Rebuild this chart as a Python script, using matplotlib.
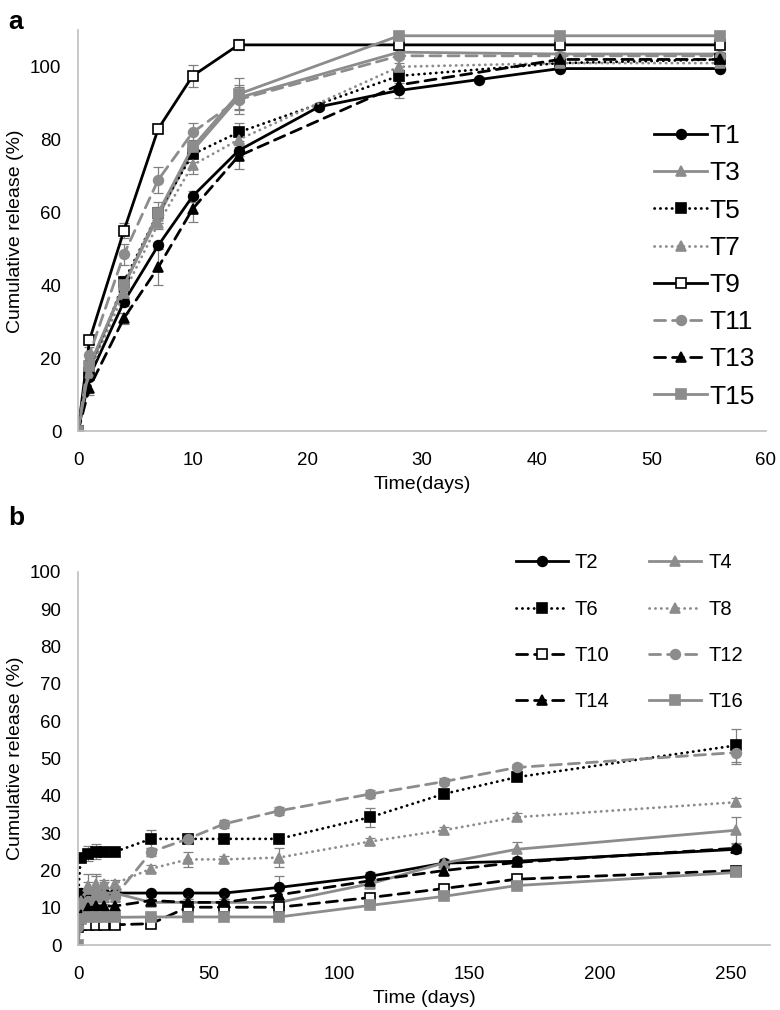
import matplotlib.pyplot as plt

plt.rcParams['font.family'] = ['Liberation Sans', 'DejaVu Sans']

# ---- panel a : days 0-56 ----
days_a = [0, 1, 4, 7, 10, 14, 28, 42, 56]
days_t1 = [0, 1, 4, 7, 10, 14, 21, 28, 35, 42, 56]

t1 = [0, 15, 35.5, 51, 64.5, 77, 89, 93.5, 96.5, 99.5, 99.5]
t3 = [0, 17, 40, 59, 77, 91.5, 104, 103.5, 103.5]
t5 = [0, 16, 41, 60, 76, 82, 97.5, 101, 102]
t7 = [0, 16, 38, 57, 73, 80, 100, 101, 101]
t9 = [0, 25, 55, 83, 97.5, 106, 106, 106, 106]
t11 = [0, 21, 48.5, 69, 82, 91, 103, 103, 103]
t13 = [0, 12, 31, 45, 61, 75.5, 95, 102, 102]
t15 = [0, 18, 40, 60, 78, 92.5, 108.5, 108.5, 108.5]

t1_err = [0, 1, 1, 1, 1.5, 1.5, 1, 2, 0.5, 0.5, 0.5]
t3_err = [0, 1, 1.5, 2, 2, 3, 0.5, 0.5, 0.5]
t5_err = [0, 1, 1.5, 1.5, 2, 2.5, 1, 0.5, 0.5]
t7_err = [0, 1, 1.5, 1.5, 2.5, 2, 1, 0.5, 0.5]
t9_err = [0, 1, 2, 0.5, 3, 1.5, 0.5, 0.5, 0.5]
t11_err = [0, 2, 3, 3.5, 2.5, 4, 1, 0.5, 0.5]
t13_err = [0, 2, 1.5, 5, 3.5, 3.5, 1, 0.5, 0.5]
t15_err = [0, 1.5, 2, 3, 2, 4.5, 0.5, 0.5, 0.5]

# ---- panel b : days 0-252 ----
days_b = [0, 1, 4, 7, 10, 14, 28, 42, 56, 77, 112, 140, 168, 252]

t2 = [14, 14, 14, 14, 14, 14, 14, 14, 14, 15.5, 18.5, 22, 22.5, 25.7]
t4 = [8, 12, 15, 15, 14, 14, 11.5, 11.5, 11.5, 11.5, 16.5, 22, 25.7, 30.8]
t6 = [13, 23.5, 24.5, 25, 25, 25, 28.5, 28.5, 28.5, 28.5, 34.3, 40.5, 45, 53.5]
t8 = [6, 12, 16, 16.5, 16.5, 16.5, 20.5, 23, 23, 23.5, 27.8, 30.8, 34.3, 38.3]
t10 = [5, 5.5, 5.5, 5.5, 5.5, 5.5, 5.8, 10.2, 10.2, 10.2, 12.8, 15.2, 17.7, 20]
t12 = [5, 9, 12, 13, 13, 13, 25, 28.5, 32.5, 36, 40.5, 43.8, 47.6, 51.6]
t14 = [7, 8, 10, 10.5, 10.5, 10.5, 12, 11.5, 11.5, 13.5, 17.3, 20, 22.2, 26]
t16 = [0, 7, 7.5, 7.5, 7.5, 7.5, 7.6, 7.6, 7.6, 7.6, 10.7, 13.1, 16, 19.5]

t2_err = [0, 0.5, 0.5, 0.5, 0.5, 0.5, 0.5, 0.5, 0.5, 3, 1, 0.5, 1, 1]
t4_err = [0, 1, 2, 4, 3, 2, 1, 1, 1, 1, 1, 1, 2, 3.5]
t6_err = [1, 1, 2, 2, 1, 1, 2.5, 1, 1, 1, 2.5, 1, 1, 4.5]
t8_err = [0, 1, 3, 2, 1, 1, 1, 2, 1, 2.5, 1, 1, 1, 1]
t10_err = [0, 0.5, 0.5, 0.5, 0.5, 0.5, 0.5, 0.5, 0.5, 0.5, 0.5, 0.5, 0.5, 0.5]
t12_err = [0, 1, 1, 1, 1, 1, 1, 1, 1, 1, 1, 1, 1, 3]
t14_err = [0, 1, 1, 1, 1, 1, 1, 1, 1, 1, 1, 1, 1, 1]
t16_err = [0, 0.5, 0.5, 0.5, 0.5, 0.5, 0.5, 0.5, 0.5, 0.5, 0.5, 0.5, 0.5, 0.5]

GRAY = '#8c8c8c'
ERR = '#808080'
AXIS = '#bfbfbf'
SOLID = '-'
DOT = (0, (0.1, 2))
DASH = (0, (4, 2.5))

series_a = [
    ('T1', days_t1, t1, t1_err, 'black', SOLID, 'o', 'black'),
    ('T3', days_a, t3, t3_err, GRAY, SOLID, '^', GRAY),
    ('T5', days_a, t5, t5_err, 'black', DOT, 's', 'black'),
    ('T7', days_a, t7, t7_err, GRAY, DOT, '^', GRAY),
    ('T9', days_a, t9, t9_err, 'black', SOLID, 's', 'white'),
    ('T11', days_a, t11, t11_err, GRAY, DASH, 'o', GRAY),
    ('T13', days_a, t13, t13_err, 'black', DASH, '^', 'black'),
    ('T15', days_a, t15, t15_err, GRAY, SOLID, 's', GRAY),
]

series_b = [
    ('T2', t2, t2_err, 'black', SOLID, 'o', 'black'),
    ('T4', t4, t4_err, GRAY, SOLID, '^', GRAY),
    ('T6', t6, t6_err, 'black', DOT, 's', 'black'),
    ('T8', t8, t8_err, GRAY, DOT, '^', GRAY),
    ('T10', t10, t10_err, 'black', DASH, 's', 'white'),
    ('T12', t12, t12_err, GRAY, DASH, 'o', GRAY),
    ('T14', t14, t14_err, 'black', DASH, '^', 'black'),
    ('T16', t16, t16_err, GRAY, SOLID, 's', GRAY),
]


def style_axes(ax):
    for side in ['top', 'right']:
        ax.spines[side].set_visible(False)
    for side in ['left', 'bottom']:
        ax.spines[side].set_color(AXIS)
        ax.spines[side].set_linewidth(1.2)
    ax.tick_params(length=0, labelsize=13.5)
    ax.tick_params(axis='y', pad=12)
    ax.tick_params(axis='x', pad=15)


fig = plt.figure(figsize=(7.8, 10.1), dpi=100)

# panel a
ax1 = fig.add_axes([0.1, 0.573, 0.882, 0.397])
for lab, x, y, err, col, ls, mk, mfc in series_a:
    ax1.errorbar(x, y, yerr=err, fmt='none', ecolor=ERR, elinewidth=0.9,
                 capsize=3.5, capthick=0.9, zorder=1)
    ax1.plot(x, y, color=col, linestyle=ls, linewidth=2, marker=mk, markersize=7,
             markerfacecolor=mfc, markeredgecolor=col, markeredgewidth=1.2,
             dash_capstyle='round', label=lab, zorder=2)
ax1.set_xlim(0, 60)
ax1.set_ylim(0, 110)
ax1.set_xticks(range(0, 61, 10))
ax1.set_yticks(range(0, 101, 20))
style_axes(ax1)
ax1.set_xlabel('Time(days)', fontsize=14, labelpad=5)
ax1.set_ylabel('Cumulative release (%)', fontsize=14, labelpad=4)
fig.legend(*ax1.get_legend_handles_labels(), loc='upper left',
           bbox_to_anchor=(0.822, 0.89), frameon=False, fontsize=19,
           handlelength=2.0, handletextpad=0.1, labelspacing=0.5, borderpad=0)
fig.text(0.01, 0.978, 'a', fontsize=19, fontweight='bold', va='center')

# panel b
ax2 = fig.add_axes([0.1, 0.064, 0.887, 0.37])
for lab, y, err, col, ls, mk, mfc in series_b:
    ax2.errorbar(days_b, y, yerr=err, fmt='none', ecolor=ERR, elinewidth=0.9,
                 capsize=3.5, capthick=0.9, zorder=1)
    ax2.plot(days_b, y, color=col, linestyle=ls, linewidth=2, marker=mk, markersize=7,
             markerfacecolor=mfc, markeredgecolor=col, markeredgewidth=1.2,
             dash_capstyle='round', label=lab, zorder=2)
ax2.set_xlim(0, 265)
ax2.set_ylim(0, 100)
ax2.set_xticks(range(0, 251, 50))
ax2.set_yticks(range(0, 101, 10))
style_axes(ax2)
ax2.set_xlabel('Time (days)', fontsize=14, labelpad=5)
ax2.set_ylabel('Cumulative release (%)', fontsize=14, labelpad=4)

# legend is filled row by row in the reference: T2 T4 / T6 T8 / ...
h, l = ax2.get_legend_handles_labels()
order = [0, 2, 4, 6, 1, 3, 5, 7]
fig.legend([h[i] for i in order], [l[i] for i in order], loc='upper left', ncol=2,
           bbox_to_anchor=(0.648, 0.462), frameon=False, fontsize=14.5,
           handlelength=2.6, handletextpad=0.35, labelspacing=1.35,
           columnspacing=1.95, borderpad=0)
fig.text(0.01, 0.487, 'b', fontsize=19, fontweight='bold', va='center')

fig.savefig('out.png', dpi=100)
